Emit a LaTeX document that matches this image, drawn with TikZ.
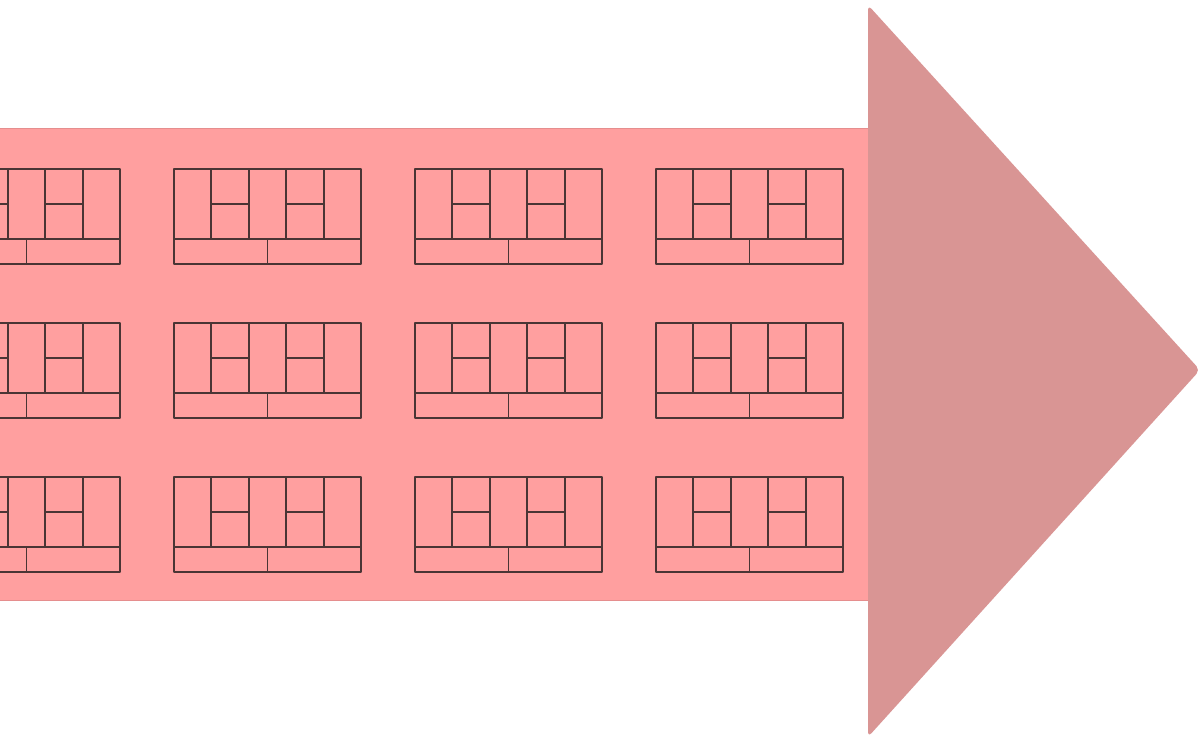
\documentclass[tikz,border=0pt]{standalone}
\usetikzlibrary{positioning}
\definecolor{bandpink}{HTML}{FF9F9F}
\definecolor{bandedge}{HTML}{E58E8E}
\definecolor{headpink}{HTML}{D99594}
\definecolor{brickline}{HTML}{4A3434}

\tikzset{
  brick/.style={draw=brickline, line width=1.1pt, line cap=round, line join=round},
  panel/.pic={
    % outer frame and base line
    \draw[brick] (0,0) rectangle (187,95);
    \draw[brick] (0,70) -- (187,70);
    % upper cells
    \foreach \i in {1,...,4}
      \draw[brick] (\i*37.4,0) -- (\i*37.4,70);
    \draw[brick] (37.4,35) -- (74.8,35);
    \draw[brick] (112.2,35) -- (149.6,35);
    % lower cells
    \draw[brick] (93.5,70) -- (93.5,95);
  }
}

\begin{document}
\begin{tikzpicture}[x=0.02cm, y=-0.02cm]
   \useasboundingbox (0,0) rectangle (1200,738);
   \clip (0,0) rectangle (1200,738);

   % body of the arrow
   \fill[bandpink, draw=bandedge, line width=0.5pt] (-10,128) rectangle (868,600);

   % head of the arrow
   \fill[headpink, rounded corners=3] (868,5) -- (1200,370) -- (868,737) -- cycle;

   % rows of panels
   \foreach \c in {0,...,3}
     \foreach \r in {0,...,2}
       \pic at ({-67+241*\c},{169+154*\r}) {panel};
\end{tikzpicture}
\end{document}
